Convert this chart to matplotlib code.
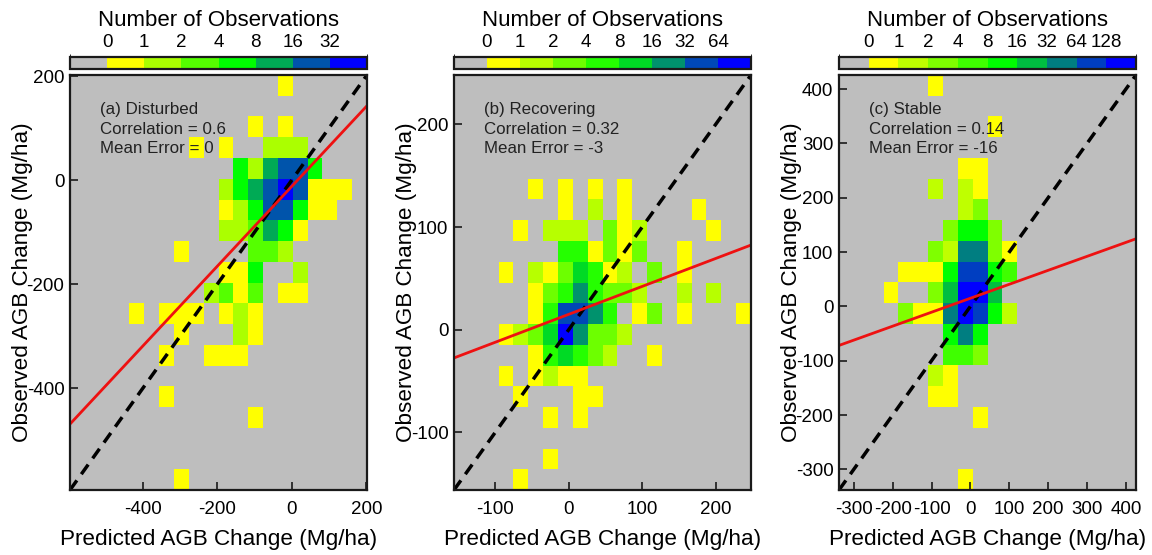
import numpy as np
import matplotlib
matplotlib.use('Agg')
import matplotlib.pyplot as plt
from matplotlib.colors import ListedColormap, BoundaryNorm, LinearSegmentedColormap
from matplotlib.cm import ScalarMappable

plt.rcParams['font.family'] = ['Liberation Sans', 'DejaVu Sans']
plt.rcParams['axes.unicode_minus'] = False

# panel annotations
titles = ['(a) Disturbed', '(b) Recovering', '(c) Stable']
correlations = ['0.6', '0.32', '0.14']
mean_errors = ['0', '-3', '-16']

# axis ranges (same for x and y) and ticks
limits = [(-595, 202), (-156, 248), (-338, 426)]
ticks_a = [-400, -200, 0, 200]
ticks_b = [-100, 0, 100, 200]
ticks_c = [-300, -200, -100, 0, 100, 200, 300, 400]

# red regression lines: observed = intercept + slope * predicted
fit_intercepts = [-12, 15, 15]
fit_slopes = [0.767, 0.272, 0.257]

# colorbar labels (number of observations)
cbar_labels_a = [0, 1, 2, 4, 8, 16, 32]
cbar_labels_b = [0, 1, 2, 4, 8, 16, 32, 64]
cbar_labels_c = [0, 1, 2, 4, 8, 16, 32, 64, 128]

# 20x20 count classes, top row first (0 = no observations, k = k-th colour)
bins_a = [
    "00000000000000100000",
    "00000000000000000000",
    "00000000000010100000",
    "00000000101002220000",
    "00000000000425664000",
    "00000000002456761110",
    "00000000001246641100",
    "00000000002235410000",
    "00000001000033200000",
    "00000000001140020000",
    "00000000023130110000",
    "00001011101210000000",
    "00000001000210000000",
    "00000010011100000000",
    "00000000000000000000",
    "00000010000000000000",
    "00000000000010000000",
    "00000000000000000000",
    "00000000000000000000",
    "00000001000000000000",
]
bins_b = [
    "00000000000000000000",
    "00000000000000000000",
    "00000000000000000000",
    "00000000000000000000",
    "00000000000000000000",
    "00000101010100000000",
    "00000001020100001000",
    "00001022203120000100",
    "00000004413130010000",
    "00010213541203010000",
    "00000134643320020200",
    "00000147764013010001",
    "00012358633200000000",
    "00000145432001000000",
    "00010121100000000000",
    "00001000110000000000",
    "00000010100000000000",
    "00000000000000000000",
    "00000010000000000000",
    "00001000000000000000",
]
bins_c = [
    "00000010000000000000",
    "00000000000000000000",
    "00000000001000000000",
    "00000000000000000000",
    "00000000110000000000",
    "00000020210000000000",
    "00000000230000000000",
    "00000003553000000000",
    "00000032773100000000",
    "00001115885400000000",
    "00010036996000000000",
    "00003117985200000000",
    "00000005750000000000",
    "00000004430000000000",
    "00000021000000000000",
    "00000011000000000000",
    "00000000010000000000",
    "00000000000000000000",
    "00000000000000000000",
    "00000000100000000000",
]

W, H = 1152, 555
fig = plt.figure(figsize=(W / 100, H / 100), dpi=100)
ramp = LinearSegmentedColormap.from_list('ygb', ['#ffff00', '#00ff00', '#0000ff'])
gray = '#bebebe'

panels = [
    (bins_a, cbar_labels_a, ticks_a),
    (bins_b, cbar_labels_b, ticks_b),
    (bins_c, cbar_labels_c, ticks_c),
]
lefts = [70, 454, 839]

for i, (bins, labels, ticks) in enumerate(panels):
    x0 = lefts[i] / W
    ax = fig.add_axes([x0, 1 - 490 / H, 297 / W, 415 / H])
    n = len(labels)
    cmap = ListedColormap([gray] + [ramp(v) for v in np.linspace(0, 1, n)])
    norm = BoundaryNorm(np.arange(-0.5, n + 1), cmap.N)

    grid = np.array([[int(c) for c in row] for row in bins])
    lo, hi = limits[i]
    edges = np.linspace(lo, hi, grid.shape[1] + 1)
    ax.pcolormesh(edges, edges[::-1], grid, cmap=cmap, norm=norm,
                  shading='flat', antialiased=False)

    ax.axline((0, 0), slope=1, color='black', lw=2.5, ls=(0, (3.4, 2.2)))
    ax.axline((0, fit_intercepts[i]), slope=fit_slopes[i], color='#ee1111', lw=2.0)

    ax.set_xlim(lo, hi)
    ax.set_ylim(lo, hi)
    ax.set_xticks(ticks)
    ax.set_yticks(ticks)
    ax.tick_params(direction='in', length=5.5, width=1.2, labelsize=13.5,
                   color='#1a1a1a')
    ax.tick_params(axis='x', pad=8)
    ax.tick_params(axis='y', pad=4)
    for sp in ax.spines.values():
        sp.set_linewidth(1.6)
        sp.set_color('#1a1a1a')

    ax.set_xlabel('Predicted AGB Change (Mg/ha)', fontsize=16.2)
    ax.set_ylabel('Observed AGB Change (Mg/ha)', fontsize=16.2)
    ax.xaxis.set_label_coords(0.5, -0.095)
    ax.yaxis.set_label_coords(-0.126, 0.5)

    ax.text(0.1, 0.935,
            f'{titles[i]}\nCorrelation = {correlations[i]}\nMean Error = {mean_errors[i]}',
            transform=ax.transAxes, ha='left', va='top', fontsize=12.2,
            linespacing=1.38, color='#222222')

    cax = fig.add_axes([x0, 1 - 69 / H, 297 / W, 12 / H])
    cb = fig.colorbar(ScalarMappable(norm=norm, cmap=cmap), cax=cax,
                      orientation='horizontal', ticks=np.arange(n) + 0.5)
    cb.set_ticklabels([str(v) for v in labels])
    cax.xaxis.set_ticks_position('top')
    cax.tick_params(length=0, pad=4, labelsize=13.5)
    cb.outline.set_linewidth(1.6)
    cb.outline.set_color('#1a1a1a')
    fig.text(x0 + 148.5 / W, 1 - 20 / H, 'Number of Observations',
             ha='center', va='center', fontsize=16)

fig.savefig('out.png', dpi=100)
plt.close(fig)
